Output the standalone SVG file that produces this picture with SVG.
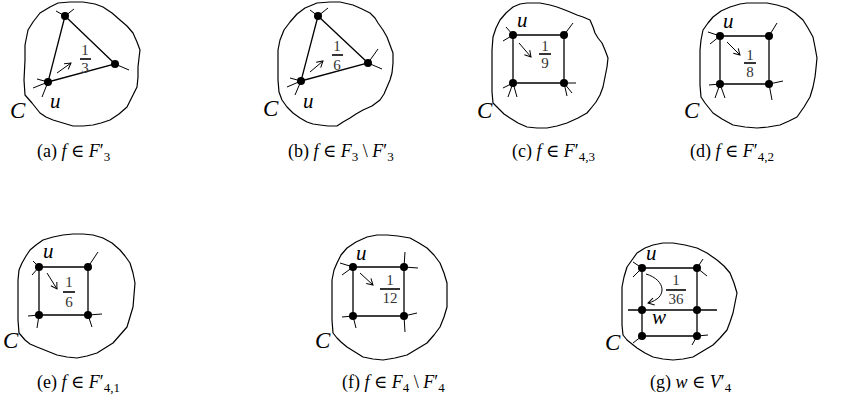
<svg xmlns="http://www.w3.org/2000/svg" width="843" height="414" viewBox="0 0 843 414">
<style>
.blob{fill:none;stroke:#000;stroke-width:1.2;stroke-linejoin:round}
.edge{stroke:#000;stroke-width:1.3;fill:none}
.stub{stroke:#000;stroke-width:1;fill:none}
.arr{stroke:#000;stroke-width:1;fill:none;marker-end:url(#ah)}
.v{fill:#000}
.lbl{font-family:"Liberation Serif","DejaVu Serif",serif;font-style:italic;font-size:21px;fill:#000}
.cl{font-size:23px}
.fr{font-family:"Liberation Serif","DejaVu Serif",serif;font-size:15px;text-anchor:middle;fill:#333}
.bar{stroke:#000;stroke-width:1.6}
.cap{font-family:"Liberation Serif","DejaVu Serif",serif;font-size:18px;fill:#000}
.it{font-style:italic}
.sub{font-size:13px}
</style>
<defs>
<marker id="ah" viewBox="-8 -5 10 10" refX="0" refY="0" markerWidth="10" markerHeight="10" orient="auto" markerUnits="userSpaceOnUse">
<path d="M-6,-3.5 L0,0 L-6,3.5" fill="none" stroke="#000" stroke-width="1"/>
</marker>
</defs>

<!-- Panel (a) -->
<g id="panel-a">
<path class="blob" d="M32,103 L25,95 L24,80 L25,60 L25,45 L28,30 L33,22 L40,13 L50,7 L58,3 L70,2 L83,2 L95,4 L103,7 L112,13 L120,20 L127,26 L133,33 L137,42 L140,50 L139,58 L138,67 L138,77 L137,87 L132,97 L127,107 L119,114 L110,120 L101,123 L93,125 L83,126 L73,126 L63,123 L53,120 L46,117 L40,113 L36,108 Z"/>
<g id="a-connectors">
<path class="edge" d="M65,16 L48,82 L115,64 Z"/>
<path class="stub" d="M65,16 L56,11 M65,16 L74,9 M115,64 L129,70 M48,82 L33,88 M48,82 L37,79 M48,82 L42,97"/>
<path class="arr" d="M57,73 L71,63"/>
</g>
<g id="a-t"><circle class="v" cx="65" cy="16" r="4"/></g>
<g id="a-r"><circle class="v" cx="115" cy="64" r="4"/></g>
<g id="a-u"><circle class="v" cx="48" cy="82" r="4"/><text class="lbl" x="50" y="108">u</text></g>
<g id="a-face"><text class="fr" x="85" y="55">1</text><line class="bar" x1="80" y1="59" x2="91" y2="59"/><text class="fr" x="85" y="73">3</text></g>
<text class="lbl cl" x="10" y="118">C</text>
<text class="cap" x="37" y="157">(a) <tspan class="it">f</tspan> ∈ <tspan class="it">F</tspan>′<tspan class="sub" dy="4">3</tspan></text>
</g>

<!-- Panel (b) -->
<g id="panel-b">
<path class="blob" d="M282,100 L279,92 L278,80 L278,65 L278,50 L280,40 L284,30 L290,22 L297,14 L305,8 L317,3 L330,2 L340,2 L353,5 L362,9 L370,13 L375,18 L378,23 L383,30 L387,37 L390,45 L393,53 L393,63 L392,73 L390,80 L387,87 L384,94 L380,100 L372,106 L363,110 L356,114 L350,118 L343,122 L337,126 L328,126 L320,125 L313,124 L307,122 L300,118 L293,113 L287,107 Z"/>
<g id="b-connectors">
<path class="edge" d="M318,16 L301,81 L368,63 Z"/>
<path class="stub" d="M318,16 L310,10 M318,16 L328,8 M368,63 L378,49 M368,63 L382,69 M301,81 L287,87 M301,81 L290,78 M301,81 L295,95"/>
<path class="arr" d="M310,72 L323,61"/>
</g>
<g id="b-t"><circle class="v" cx="318" cy="16" r="4"/></g>
<g id="b-r"><circle class="v" cx="368" cy="63" r="4"/></g>
<g id="b-u"><circle class="v" cx="301" cy="81" r="4"/><text class="lbl" x="303" y="108">u</text></g>
<g id="b-face"><text class="fr" x="337" y="51">1</text><line class="bar" x1="332" y1="55" x2="343" y2="55"/><text class="fr" x="337" y="70">6</text></g>
<text class="lbl cl" x="263" y="116">C</text>
<text class="cap" x="288" y="157">(b) <tspan class="it">f</tspan> ∈ <tspan class="it">F</tspan><tspan class="sub" dy="4">3</tspan><tspan dy="-4"> \ </tspan><tspan class="it">F</tspan>′<tspan class="sub" dy="4">3</tspan></text>
</g>

<!-- Panel (c) -->
<g id="panel-c">
<path class="blob" d="M493,103 L492,92 L492,83 L492,70 L492,58 L492,50 L493,37 L496,28 L500,20 L506,13 L513,7 L520,4 L527,3 L540,3 L550,5 L557,7 L565,10 L570,12 L577,15 L583,17 L590,20 L593,27 L595,33 L598,38 L602,43 L605,50 L608,58 L607,67 L605,77 L603,87 L600,95 L596,102 L592,107 L587,113 L578,118 L567,123 L557,126 L547,128 L537,128 L527,127 L518,123 L510,118 L504,114 L500,110 Z"/>
<g id="c-connectors">
<path class="edge" d="M513,35 L564,35 L564,83 L513,83 Z"/>
<path class="stub" d="M513,35 L506,27 M513,35 L503,41 M564,35 L573,23 M513,83 L503,88 M513,83 L508,97 M513,83 L517,97 M564,83 L576,83 M564,83 L572,93 M564,83 L567,96"/>
<path class="arr" d="M519,43 L531,57"/>
</g>
<g id="c-u"><circle class="v" cx="513" cy="35" r="4"/><text class="lbl" x="517" y="27">u</text></g>
<g id="c-tr"><circle class="v" cx="564" cy="35" r="4"/></g>
<g id="c-bl"><circle class="v" cx="513" cy="83" r="4"/></g>
<g id="c-br"><circle class="v" cx="564" cy="83" r="4"/></g>
<g id="c-face"><text class="fr" x="545" y="51">1</text><line class="bar" x1="539" y1="54" x2="551" y2="54"/><text class="fr" x="545" y="68">9</text></g>
<text class="lbl cl" x="477" y="118">C</text>
<text class="cap" x="512" y="157">(c) <tspan class="it">f</tspan> ∈ <tspan class="it">F</tspan>′<tspan class="sub" dy="4">4,3</tspan></text>
</g>

<!-- Panel (d) -->
<g id="panel-d">
<path class="blob" d="M705,103 L701,97 L700,85 L700,70 L700,50 L701,40 L703,30 L708,23 L713,17 L721,11 L730,7 L740,4 L747,3 L757,3 L767,3 L777,5 L787,8 L795,13 L803,20 L808,28 L813,37 L815,47 L817,58 L816,68 L815,77 L813,87 L810,97 L804,107 L797,117 L789,121 L780,125 L768,127 L757,128 L745,127 L733,125 L722,119 L713,113 L709,108 Z"/>
<g id="d-connectors">
<path class="edge" d="M720,36 L769,36 L769,84 L720,84 Z"/>
<path class="stub" d="M720,36 L708,32 M720,36 L710,44 M769,36 L777,23 M720,84 L709,85 M720,84 L715,98 M720,84 L725,98 M769,84 L783,81 M769,84 L772,100"/>
<path class="arr" d="M727,42 L740,55"/>
</g>
<g id="d-u"><circle class="v" cx="720" cy="36" r="4"/><text class="lbl" x="723" y="28">u</text></g>
<g id="d-tr"><circle class="v" cx="769" cy="36" r="4"/></g>
<g id="d-bl"><circle class="v" cx="720" cy="84" r="4"/></g>
<g id="d-br"><circle class="v" cx="769" cy="84" r="4"/></g>
<g id="d-face"><text class="fr" x="750" y="60">1</text><line class="bar" x1="744" y1="63" x2="756" y2="63"/><text class="fr" x="750" y="77">8</text></g>
<text class="lbl cl" x="684" y="118">C</text>
<text class="cap" x="690" y="157">(d) <tspan class="it">f</tspan> ∈ <tspan class="it">F</tspan>′<tspan class="sub" dy="4">4,2</tspan></text>
</g>

<!-- Panel (e) -->
<g id="panel-e">
<path class="blob" d="M25,340 L19,333 L18,320 L18,300 L18,280 L19,270 L22,263 L26,256 L30,250 L36,245 L43,240 L53,237 L63,235 L73,234 L83,234 L93,235 L103,238 L112,243 L120,250 L125,256 L130,263 L133,273 L135,283 L134,295 L133,307 L130,317 L127,327 L120,335 L113,343 L105,348 L97,353 L87,356 L77,358 L67,357 L57,355 L47,351 L37,347 L30,344 Z"/>
<g id="e-connectors">
<path class="edge" d="M39,267 L88,267 L88,315 L39,315 Z"/>
<path class="stub" d="M39,267 L33,261 M39,267 L32,275 M88,267 L98,252 M39,315 L28,316 M39,315 L37,328 M88,315 L102,314 M88,315 L92,327"/>
<path class="arr" d="M47,273 L57,289"/>
</g>
<g id="e-u"><circle class="v" cx="39" cy="267" r="4"/><text class="lbl" x="43" y="258">u</text></g>
<g id="e-tr"><circle class="v" cx="88" cy="267" r="4"/></g>
<g id="e-bl"><circle class="v" cx="39" cy="315" r="4"/></g>
<g id="e-br"><circle class="v" cx="88" cy="315" r="4"/></g>
<g id="e-face"><text class="fr" x="69" y="287">1</text><line class="bar" x1="63" y1="292" x2="75" y2="292"/><text class="fr" x="69" y="307">6</text></g>
<text class="lbl cl" x="3" y="348">C</text>
<text class="cap" x="37" y="388">(e) <tspan class="it">f</tspan> ∈ <tspan class="it">F</tspan>′<tspan class="sub" dy="4">4,1</tspan></text>
</g>

<!-- Panel (f) -->
<g id="panel-f">
<path class="blob" d="M337,338 L333,333 L332,320 L332,300 L332,280 L334,270 L337,263 L341,255 L347,248 L356,242 L367,237 L377,235 L387,235 L398,236 L410,238 L419,243 L427,248 L434,255 L440,263 L444,273 L447,283 L447,295 L447,307 L444,317 L440,327 L434,335 L427,343 L417,349 L407,355 L395,358 L383,360 L373,359 L363,357 L355,352 L347,347 L341,342 Z"/>
<g id="f-connectors">
<path class="edge" d="M353,267 L404,267 L404,316 L353,316 Z"/>
<path class="stub" d="M353,267 L340,263 M353,267 L342,275 M404,267 L405,252 M404,267 L418,268 M353,316 L342,317 M353,316 L356,328 M404,316 L417,313 M404,316 L405,332"/>
<path class="arr" d="M360,273 L373,285"/>
</g>
<g id="f-u"><circle class="v" cx="353" cy="267" r="4"/><text class="lbl" x="356" y="260">u</text></g>
<g id="f-tr"><circle class="v" cx="404" cy="267" r="4"/></g>
<g id="f-bl"><circle class="v" cx="353" cy="316" r="4"/></g>
<g id="f-br"><circle class="v" cx="404" cy="316" r="4"/></g>
<g id="f-face"><text class="fr" x="390" y="285">1</text><line class="bar" x1="380" y1="289" x2="400" y2="289"/><text class="fr" x="390" y="303">12</text></g>
<text class="lbl cl" x="315" y="348">C</text>
<text class="cap" x="342" y="388">(f) <tspan class="it">f</tspan> ∈ <tspan class="it">F</tspan><tspan class="sub" dy="4">4</tspan><tspan dy="-4"> \ </tspan><tspan class="it">F</tspan>′<tspan class="sub" dy="4">4</tspan></text>
</g>

<!-- Panel (g) -->
<g id="panel-g">
<path class="blob" d="M627,340 L623,335 L622,325 L622,310 L622,287 L624,277 L627,267 L632,260 L637,253 L645,248 L653,245 L663,243 L673,243 L685,245 L697,248 L707,253 L717,260 L724,266 L730,273 L734,283 L737,293 L735,303 L733,313 L730,322 L727,330 L720,338 L713,345 L703,351 L693,357 L683,359 L673,360 L663,359 L653,357 L645,353 L637,348 L632,344 Z"/>
<g id="g-connectors">
<path class="edge" d="M642,268 L697,268 L697,336 L642,336 Z"/>
<path class="edge" d="M628,310 L717,310"/>
<path class="stub" d="M642,268 L633,262 M642,268 L633,277 M697,268 L703,259 M697,268 L707,276 M642,336 L633,343 M697,336 L708,335 M697,336 L692,345"/>
<path class="arr" d="M646,274 C666,280 668,298 648,303"/>
</g>
<g id="g-u"><circle class="v" cx="642" cy="268" r="4"/><text class="lbl" x="646" y="260">u</text></g>
<g id="g-tr"><circle class="v" cx="697" cy="268" r="4"/></g>
<g id="g-w"><circle class="v" cx="642" cy="310" r="4"/><text class="lbl" x="652" y="324">w</text></g>
<g id="g-mr"><circle class="v" cx="697" cy="310" r="4"/></g>
<g id="g-bl"><circle class="v" cx="642" cy="336" r="4"/></g>
<g id="g-br"><circle class="v" cx="697" cy="336" r="4"/></g>
<g id="g-face"><text class="fr" x="676" y="285">1</text><line class="bar" x1="666" y1="290" x2="686" y2="290"/><text class="fr" x="676" y="304">36</text></g>
<text class="lbl cl" x="605" y="350">C</text>
<text class="cap" x="650" y="388">(g) <tspan class="it">w</tspan> ∈ <tspan class="it">V</tspan>′<tspan class="sub" dy="4">4</tspan></text>
</g>
</svg>
